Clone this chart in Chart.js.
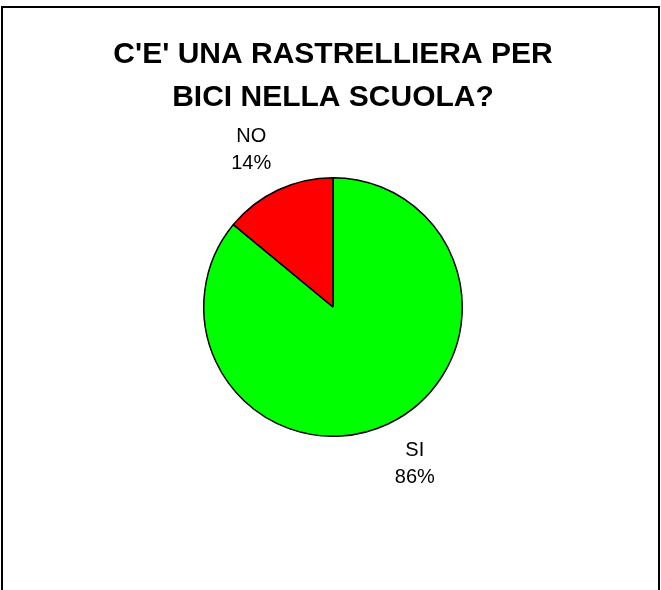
<!DOCTYPE html>
<html>
<head>
<meta charset="utf-8">
<script src="https://cdn.jsdelivr.net/npm/chart.js@4.4.0/dist/chart.umd.min.js"></script>
<style>
  html, body { margin: 0; padding: 0; background: #fff; overflow: hidden; }
  #wrap { position: relative; width: 661px; height: 590px; }
  #frame {
    position: absolute; left: 1px; top: 6px; width: 655px; height: 600px;
    border: 2px solid #000; border-bottom: none; pointer-events: none;
  }
</style>
</head>
<body>
<div id="wrap">
  <canvas id="pieChart" width="661" height="590"></canvas>
  <div id="frame"></div>
</div>
<script>
  // chart data
  const labels = ["SI", "NO"];
  const values = [86, 14];
  const colors = ["#00ff00", "#ff0000"];
  const titleLines = ["C'E' UNA RASTRELLIERA PER", "BICI NELLA SCUOLA?"];

  // label outside each slice: name + percent
  const sliceLabels = {
    id: "sliceLabels",
    afterDatasetsDraw: function (chart) {
      const ctx = chart.ctx;
      const meta = chart.getDatasetMeta(0);
      const total = values.reduce((a, b) => a + b, 0);
      ctx.save();
      ctx.font = "20px 'Liberation Sans', Arial, sans-serif";
      ctx.fillStyle = "#000";
      ctx.textAlign = "center";
      ctx.textBaseline = "middle";
      meta.data.forEach((arc, i) => {
        const mid = (arc.startAngle + arc.endAngle) / 2;
        const r = arc.outerRadius + 44;
        const cos = Math.cos(mid);
        const x = arc.x + cos * r + (cos < 0 ? -8 : 8);
        const y = arc.y + Math.sin(mid) * r;
        const pct = Math.round((values[i] / total) * 100) + "%";
        ctx.fillText(labels[i], x, y - 13.5);
        ctx.fillText(pct, x, y + 13.5);
      });
      ctx.restore();
    },
  };

  new Chart(document.getElementById("pieChart"), {
    type: "pie",
    data: {
      labels: labels,
      datasets: [
        {
          data: values,
          backgroundColor: colors,
          borderColor: "#000",
          borderWidth: 1.5,
        },
      ],
    },
    options: {
      responsive: false,
      animation: false,
      layout: { padding: { left: 5, right: 0, top: 0, bottom: 153 } },
      plugins: {
        legend: { display: false },
        tooltip: { enabled: false },
        title: {
          display: true,
          text: titleLines,
          color: "#000",
          font: {
            family: "'Liberation Sans', Arial, sans-serif",
            size: 30,
            weight: "bold",
            lineHeight: 1.433,
          },
          padding: { top: 33, bottom: 58 },
        },
      },
    },
    plugins: [sliceLabels],
  });
</script>
</body>
</html>
